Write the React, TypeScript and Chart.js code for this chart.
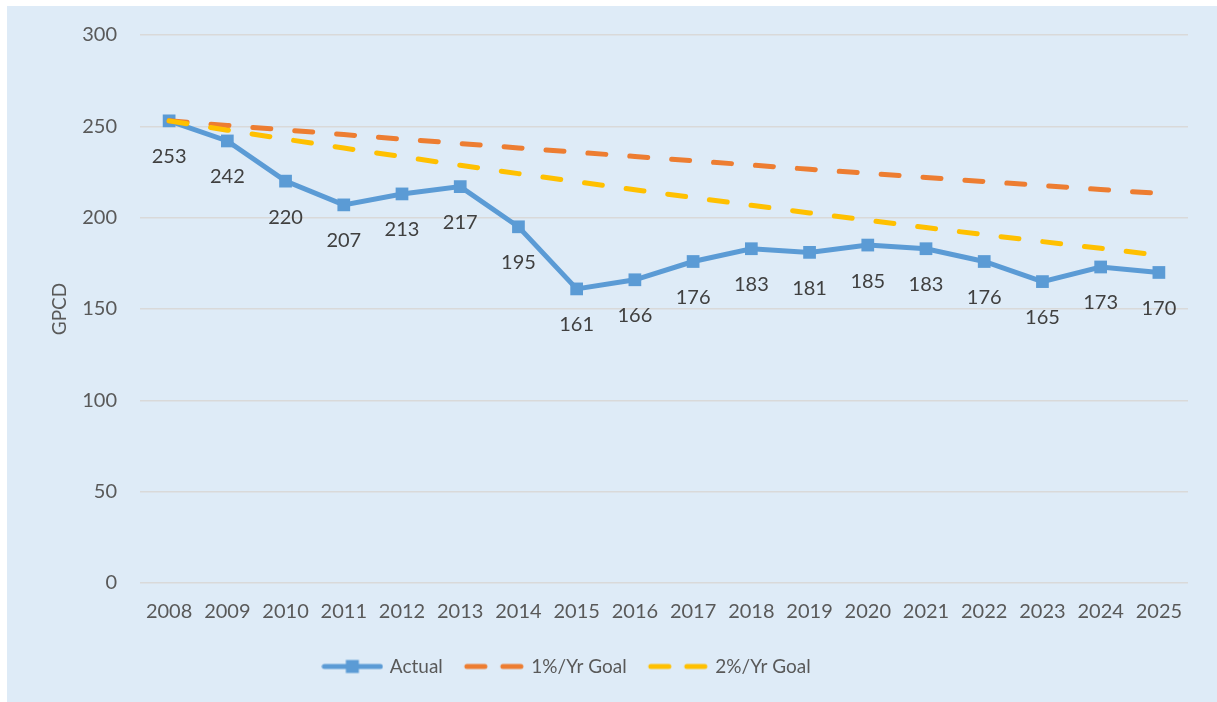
import React, { useEffect, useRef } from "react";
import { Chart, registerables } from "chart.js";

Chart.register(...registerables);

const years = ["2008", "2009", "2010", "2011", "2012", "2013", "2014", "2015", "2016", "2017", "2018", "2019", "2020", "2021", "2022", "2023", "2024", "2025"];
const actual = [253, 242, 220, 207, 213, 217, 195, 161, 166, 176, 183, 181, 185, 183, 176, 165, 173, 170];
const goal1 = [253, 250.5, 248.0, 245.5, 243.0, 240.6, 238.2, 235.8, 233.5, 231.1, 228.8, 226.5, 224.3, 222.0, 219.8, 217.6, 215.4, 213.3];
const goal2 = [253, 247.9, 243.0, 238.1, 233.4, 228.7, 224.1, 219.7, 215.3, 211.0, 206.8, 202.6, 198.6, 194.6, 190.7, 186.9, 183.2, 179.5];
const seriesNames = ["Actual", "1%/Yr Goal", "2%/Yr Goal"];
const yAxisTitle = "GPCD";

const BLUE = "#5b9bd5";
const ORANGE = "#ed7d31";
const YELLOW = "#ffc000";
const TEXT = "#595959";
const FONT = 'Lato, "Open Sans", sans-serif';

function makeIcon(kind: "solid" | "dash", color: string): HTMLCanvasElement {
  const c = document.createElement("canvas");
  c.width = 62;
  c.height = 16;
  const ctx = c.getContext("2d")!;
  ctx.strokeStyle = color;
  ctx.fillStyle = color;
  ctx.lineWidth = 5;
  ctx.lineCap = "round";
  if (kind === "solid") {
    ctx.beginPath();
    ctx.moveTo(3, 8);
    ctx.lineTo(59, 8);
    ctx.stroke();
    ctx.fillRect(31 - 6.5, 8 - 6.5, 13, 13);
  } else {
    ctx.beginPath();
    ctx.moveTo(4, 8);
    ctx.lineTo(22, 8);
    ctx.moveTo(40, 8);
    ctx.lineTo(58, 8);
    ctx.stroke();
  }
  return c;
}

const labelPlugin = {
  id: "pointLabels",
  afterLayout(chart: any) {
    const lg = chart.legend;
    if (lg) {
      lg.left -= 30;
      lg.right -= 30;
    }
  },
  afterDatasetsDraw(chart: any) {
    const meta = chart.getDatasetMeta(0);
    const ctx = chart.ctx;
    ctx.save();
    ctx.fillStyle = "#404040";
    ctx.font = `20px ${FONT}`;
    ctx.textAlign = "center";
    ctx.textBaseline = "middle";
    meta.data.forEach((pt: any, i: number) => {
      ctx.fillText(String(actual[i]), pt.x, pt.y + 36);
    });
    ctx.restore();
  },
};

export default function App() {
  const ref = useRef<HTMLCanvasElement>(null);
  useEffect(() => {
    const icons = [makeIcon("solid", BLUE), makeIcon("dash", ORANGE), makeIcon("dash", YELLOW)];
    const chart = new Chart(ref.current!, {
      type: "line",
      data: {
        labels: years,
        datasets: [
          {
            label: seriesNames[0],
            data: actual,
            borderColor: BLUE,
            backgroundColor: BLUE,
            borderWidth: 5,
            pointStyle: "rect",
            pointRadius: 9,
            pointBorderWidth: 0,
            pointBackgroundColor: BLUE,
            tension: 0,
            order: 3,
          },
          {
            label: seriesNames[1],
            data: goal1,
            borderColor: ORANGE,
            backgroundColor: ORANGE,
            borderWidth: 5,
            borderDash: [18, 24],
            borderCapStyle: "round",
            pointRadius: 0,
            tension: 0,
            order: 2,
          },
          {
            label: seriesNames[2],
            data: goal2,
            borderColor: YELLOW,
            backgroundColor: YELLOW,
            borderWidth: 5,
            borderDash: [18, 24],
            borderCapStyle: "round",
            pointRadius: 0,
            tension: 0,
            order: 1,
          },
        ],
      },
      options: {
        animation: false,
        responsive: false,
        layout: { padding: { top: 29, right: 29, bottom: 16, left: 0 } },
        plugins: {
          tooltip: { enabled: false },
          legend: {
            position: "bottom",
            labels: {
              usePointStyle: true,
              pointStyleWidth: 56,
              padding: 23,
              color: TEXT,
              font: { family: FONT, size: 19 },
              generateLabels: () =>
                seriesNames.map((name, i) => ({
                  text: name,
                  datasetIndex: i,
                  pointStyle: icons[i] as any,
                  fillStyle: "transparent",
                  strokeStyle: "transparent",
                  lineWidth: 0,
                  fontColor: TEXT,
                  hidden: false,
                })),
            },
          },
        },
        scales: {
          x: {
            offset: true,
            grid: { display: false, drawTicks: false },
            border: { display: false },
            ticks: { color: TEXT, font: { family: FONT, size: 20 }, padding: 17, maxRotation: 0, autoSkip: false },
            afterFit: (s: any) => {
              s.height = 51;
            },
          },
          y: {
            min: 0,
            max: 300,
            grid: { color: "#d9d9d9", lineWidth: 1.5, drawTicks: false },
            border: { display: false },
            ticks: { stepSize: 50, color: TEXT, font: { family: FONT, size: 20 }, padding: 23 },
            title: {
              display: true,
              text: yAxisTitle,
              color: TEXT,
              font: { family: FONT, size: 19 },
              padding: { top: 41, bottom: 0 },
            },
            afterFit: (s: any) => {
              s.width = 133;
              s.paddingTop = 0;
              s.paddingBottom = 0;
            },
          },
        },
      },
      plugins: [labelPlugin],
    } as any);
    return () => chart.destroy();
  }, []);
  return (
    <div
      style={{
        position: "absolute",
        left: 7,
        top: 6,
        width: 1210,
        height: 696,
        background: "#deebf7",
      }}
    >
      <canvas ref={ref} width={1210} height={696} style={{ display: "block" }} />
    </div>
  );
}
